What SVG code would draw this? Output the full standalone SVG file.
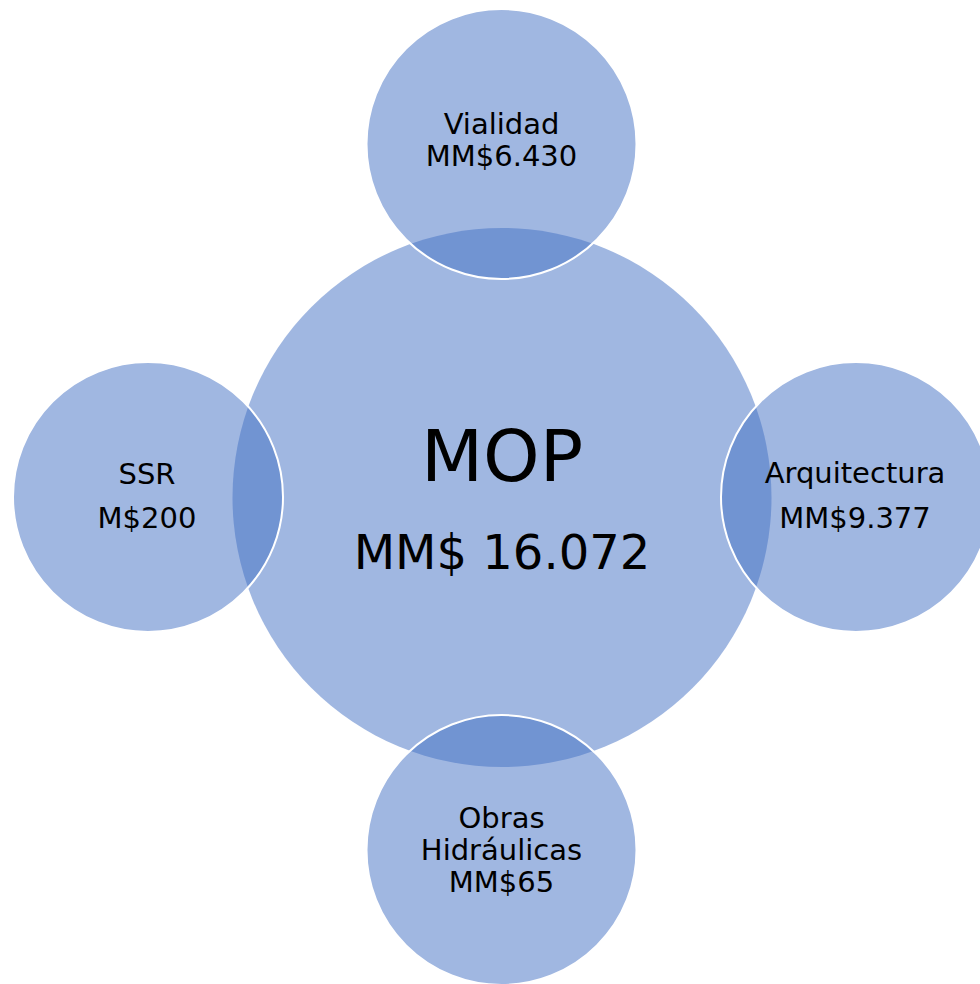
<svg xmlns="http://www.w3.org/2000/svg" width="980" height="984" viewBox="0 0 980 984">
<style>
.c{fill:#4472C4;fill-opacity:0.51}
.s{stroke:#ffffff;stroke-width:2}
text{font-family:"DejaVu Sans","Verdana",sans-serif;fill:#000;text-anchor:middle}
.t{font-size:29px}
</style>
<rect width="980" height="984" fill="#ffffff"/>
<g id="mop">
<circle class="c" cx="502" cy="497.5" r="269.5"/>
<text x="502" y="481" font-size="72">MOP</text>
<text x="502" y="569" font-size="48">MM$ 16.072</text>
</g>
<g id="vialidad">
<circle class="c s" cx="501.5" cy="144" r="135"/>
<text class="t" x="501.5" y="134">Vialidad</text>
<text class="t" x="501.5" y="166">MM$6.430</text>
</g>
<g id="ssr">
<circle class="c s" cx="148" cy="497" r="135"/>
<text class="t" x="147" y="484">SSR</text>
<text class="t" x="147" y="528">M$200</text>
</g>
<g id="arquitectura">
<circle class="c s" cx="856" cy="497" r="135"/>
<text class="t" x="855" y="483">Arquitectura</text>
<text class="t" x="855" y="528">MM$9.377</text>
</g>
<g id="obras">
<circle class="c s" cx="501.5" cy="850" r="135"/>
<text class="t" x="501.5" y="828">Obras</text>
<text class="t" x="501.5" y="860">Hidráulicas</text>
<text class="t" x="501.5" y="892">MM$65</text>
</g>
<g id="connectors"/>
</svg>
